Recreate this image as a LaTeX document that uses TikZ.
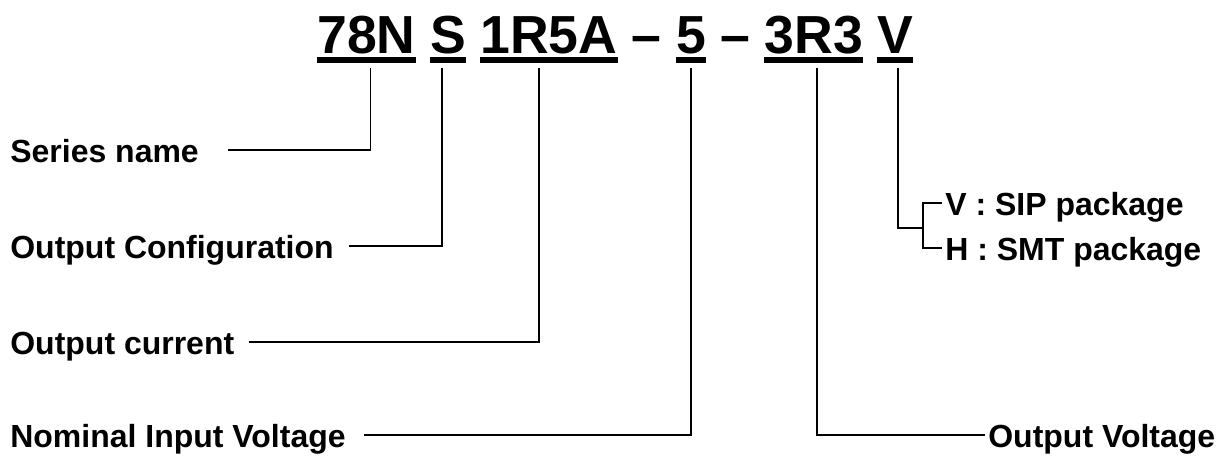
\documentclass[tikz,border=0pt]{standalone}
\usepackage{fontspec}
\setmainfont{Liberation Sans}
\usepackage{tikz}
\usetikzlibrary{positioning,calc}

\begin{document}
\begin{tikzpicture}[
    font=\bfseries\fontsize{18.2}{22}\selectfont,
    node distance=0.275cm,
    part/.style={
        inner sep=0pt,
        text depth=0.3cm,
        font=\bfseries\fontsize{30.5}{36}\selectfont
    },
    label/.style={
        inner sep=0pt,
        text height=0.5cm,
        text depth=0pt,
        anchor=west
    },
    uline/.style={line width=3.4pt},
    lead/.style={line width=1.1pt}
]
\useasboundingbox (0,0) rectangle (24.48,-9.12);

% type code: one row of parts
\node[part, anchor=base west] (p78N) at (6.34,-1.06) {78N};
\node[part, base right=of p78N] (pS) {S};
\node[part, base right=of pS] (p1R5A) {1R5A};
\node[part, base right=of p1R5A] (dashA) {\textendash};
\node[part, base right=of dashA] (p5) {5};
\node[part, base right=of p5] (dashB) {\textendash};
\node[part, base right=of dashB] (p3R3) {3R3};
\node[part, base right=of p3R3] (pV) {V};

\foreach \p in {p78N,pS,p1R5A,p5,p3R3,pV}
    \draw[uline] ([yshift=-0.14cm]\p.base west) -- ([yshift=-0.14cm]\p.base east);

% left labels
\node[label] (lblSeries) at (0.20,-3.00) {Series name};
\node[label] (lblConfig) at (0.20,-4.92) {Output Configuration};
\node[label] (lblCurrent) at (0.20,-6.84) {Output current};
\node[label] (lblNominal) at (0.20,-8.70) {Nominal Input Voltage};

% right labels
\node[label] (lblSIP) at (18.90,-4.06) {V : SIP package};
\node[label] (lblSMT) at (18.90,-4.96) {H : SMT package};
\node[label] (lblOutV) at (19.76,-8.70) {Output Voltage};
\coordinate (fork) at (18.46,-4.56);

\draw[lead] ([xshift=0.58cm]lblSeries.east) -| ([xshift=0.08cm]p78N.south);
\draw[lead] ([xshift=0.30cm]lblConfig.east) -| ([xshift=-0.12cm]pS.south);
\draw[lead] ([xshift=0.28cm]lblCurrent.east) -| ([xshift=-0.20cm]p1R5A.south);
\draw[lead] ([xshift=0.36cm]lblNominal.east) -| (p5.south);
\draw[lead] ([xshift=0.06cm]p3R3.south) |- ([xshift=-0.06cm]lblOutV.west);

% package options
\draw[lead] ([xshift=0.06cm]pV.south) |- (fork);
\draw[lead] ([xshift=-0.06cm]lblSIP.west) -| (fork) |- ([xshift=-0.06cm]lblSMT.west);

\end{tikzpicture}
\end{document}
